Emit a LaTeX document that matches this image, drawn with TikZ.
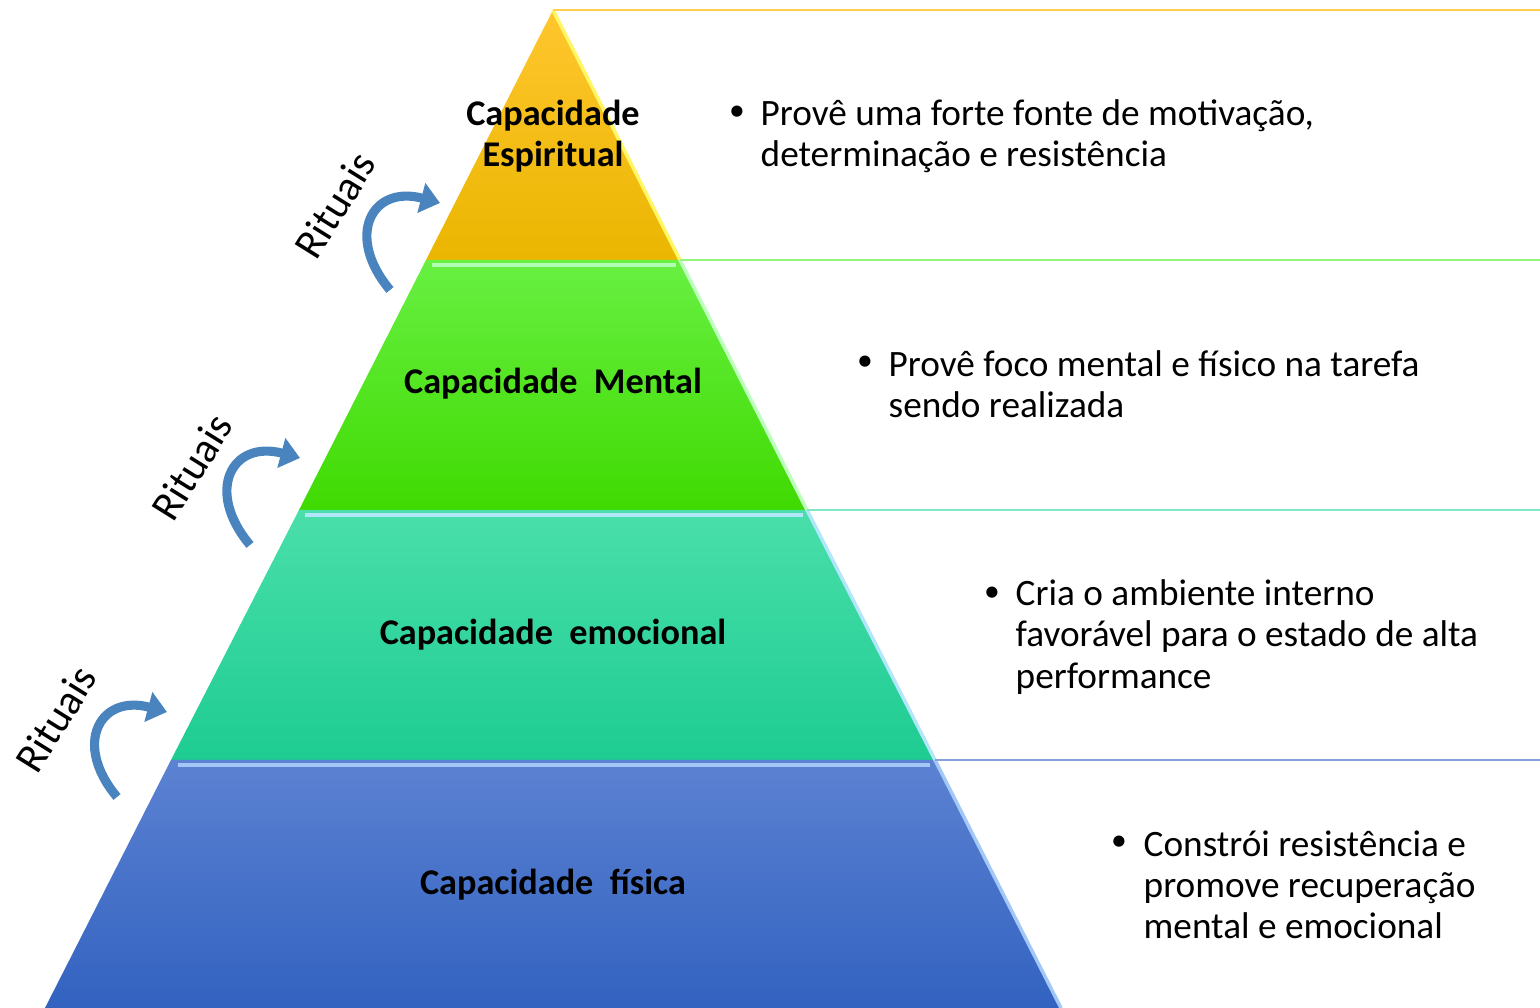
\documentclass[tikz,border=0pt]{standalone}
\usepackage{fontspec}
\setmainfont{Carlito}
\usetikzlibrary{arrows.meta}

\definecolor{goldtop}{HTML}{FFC62E}
\definecolor{goldbot}{HTML}{EAB600}
\definecolor{greentop}{HTML}{68F042}
\definecolor{greenbot}{HTML}{40DA02}
\definecolor{tealtop}{HTML}{4ADFAA}
\definecolor{tealbot}{HTML}{1ECC92}
\definecolor{bluetop}{HTML}{5C82D2}
\definecolor{bluebot}{HTML}{3262C0}
\definecolor{arrowblue}{HTML}{4A84BE}
\definecolor{bluelight}{HTML}{A4C8F6}

\begin{document}
\begin{tikzpicture}[
    tier/.style={font=\fontsize{10.3}{11.7}\selectfont\bfseries, align=center},
    info/.style={font=\fontsize{10.6}{11.7}\selectfont, anchor=west, align=left, inner sep=0pt},
    bullet/.style={font=\fontsize{9}{11}\selectfont, inner sep=0pt},
    ritual/.style={font=\fontsize{12}{14}\selectfont, rotate=58},
    ritualarrow/.style={draw=arrowblue, line width=2.6pt, -{Triangle[width=8.5pt,length=5.5pt]}}
]
    \useasboundingbox (0,0) rectangle (15.40,10.08);

    % Layers
    \shade[top color=goldtop, bottom color=goldbot] (5.53,9.98) -- (6.80,7.48) -- (4.26,7.48) -- cycle;
    \shade[top color=greentop, bottom color=greenbot] (4.26,7.48) -- (6.80,7.48) -- (8.07,4.98) -- (2.99,4.98) -- cycle;
    \shade[top color=tealtop, bottom color=tealbot] (2.99,4.98) -- (8.07,4.98) -- (9.35,2.48) -- (1.71,2.48) -- cycle;
    \shade[top color=bluetop, bottom color=bluebot] (1.71,2.48) -- (9.35,2.48) -- (10.61,0) -- (0.45,0) -- cycle;

    % Highlights
    \draw[line width=1pt, color=yellow!60!white] (5.53,9.98) -- (6.80,7.48);
    \draw[line width=1pt, color=green!25!white] (6.80,7.48) -- (8.07,4.98);
    \draw[line width=1pt, color=cyan!30!white] (8.07,4.98) -- (9.35,2.48);
    \draw[line width=1pt, color=bluelight] (9.35,2.48) -- (10.61,0);
    \draw[line width=1.4pt, color=green!30!white] (4.32,7.43) -- (6.76,7.43);
    \draw[line width=1.4pt, color=cyan!30!white] (3.05,4.93) -- (8.03,4.93);
    \draw[line width=1.4pt, color=bluelight] (1.78,2.43) -- (9.30,2.43);

    % Lines
    \draw[line width=0.8pt, color=goldtop!85!white] (5.53,9.98) -- (15.40,9.98);
    \draw[line width=0.8pt, color=greentop!70!white] (6.80,7.48) -- (15.40,7.48);
    \draw[line width=0.8pt, color=tealtop!70!white] (8.07,4.98) -- (15.40,4.98);
    \draw[line width=0.8pt, color=bluetop!75!white] (9.35,2.48) -- (15.40,2.48);

    % Labels
    \node[tier] (spirit) at (5.53,8.72) {Capacidade\\Espiritual};
    \node[tier] (mental) at (5.53,6.24) {Capacidade~ Mental};
    \node[tier] (emotion) at (5.53,3.73) {Capacidade~ emocional};
    \node[tier] (body) at (5.53,1.23) {Capacidade~ física};

    % Bullets
    \node[bullet] (b1) at (7.37,8.95) {\textbullet};
    \node[info] (t1) at (7.60,8.72) {Provê uma forte fonte de motivação,\\determinação e resistência};
    \node[bullet] (b2) at (8.65,6.45) {\textbullet};
    \node[info] (t2) at (8.88,6.24) {Provê foco mental e físico na tarefa\\sendo realizada};
    \node[bullet] (b3) at (9.92,4.14) {\textbullet};
    \node[info] (t3) at (10.15,3.71) {Cria o ambiente interno\\favorável para o estado de alta\\performance};
    \node[bullet] (b4) at (11.19,1.65) {\textbullet};
    \node[info] (t4) at (11.43,1.23) {Constrói resistência e\\promove recuperação\\mental e emocional};

    % Rituais
    \node[ritual] (r1) at (3.35,8.03) {Rituais};
    \node[ritual] (r2) at (1.92,5.41) {Rituais};
    \node[ritual] (r3) at (0.56,2.89) {Rituais};
    \coordinate (a1) at (3.90,7.18);
    \coordinate (e1) at (4.40,8.05);
    \coordinate (a2) at (2.50,4.63);
    \coordinate (e2) at (3.00,5.50);
    \coordinate (a3) at (1.17,2.11);
    \coordinate (e3) at (1.67,2.96);
    \draw[ritualarrow] (a1) to[out=130, in=165, looseness=1.8] (e1);
    \draw[ritualarrow] (a2) to[out=130, in=165, looseness=1.8] (e2);
    \draw[ritualarrow] (a3) to[out=130, in=165, looseness=1.8] (e3);
\end{tikzpicture}
\end{document}
